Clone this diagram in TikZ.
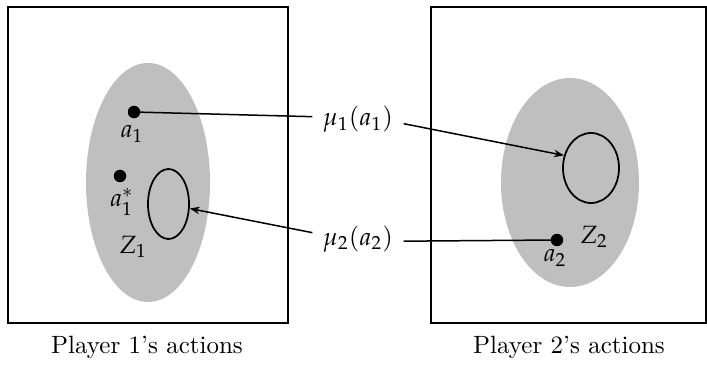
\documentclass[tikz,border=0pt]{standalone}
\usepackage{mathpazo}
\usetikzlibrary{arrows.meta,shapes.geometric}
\begin{document}
\begin{tikzpicture}[x=0.4pt,y=-0.4pt,
  frame/.style={draw, line width=0.8pt},
  region/.style={ellipse, fill=black!25, draw=none, inner sep=0pt},
  subset/.style={ellipse, draw, line width=0.7pt, inner sep=0pt},
  dot/.style={circle, fill=black, inner sep=0pt, minimum size=5pt},
  conn/.style={line width=0.6pt},
  arr/.style={conn, -{Stealth[length=4pt,width=3pt]}},
  lbl/.style={inner sep=0pt, anchor=base},
  caption/.style={inner sep=0pt, anchor=base, font=\fontsize{10}{12}\selectfont}]
\useasboundingbox (0,0) rectangle (707,366);
% frames
\node[frame, minimum width=112pt, minimum height=126.4pt, inner sep=0pt] (box1) at (148,165) {};
\node[frame, minimum width=110pt, minimum height=126.4pt, inner sep=0pt] (box2) at (568.5,165) {};
% regions
\node[region, minimum width=49.6pt, minimum height=95.6pt] (R1) at (148,182.5) {};
\node[region, minimum width=55.2pt, minimum height=83.6pt] (R2) at (570,182.5) {};
% subsets
\node[subset, minimum width=16.4pt, minimum height=28pt] (S1) at (168.5,204) {};
\node[subset, minimum width=22.4pt, minimum height=28pt] (S2) at (591,168) {};
% dots
\node[dot] (a1) at (134,112) {};
\node[dot] (a1s) at (120,176) {};
\node[dot] (a2) at (557,240) {};
% labels
\node[lbl] (la1) at (132,138) {$a_1$};
\node[lbl] (la1s) at (122,207) {$a_1^*$};
\node[lbl] (lZ1) at (133,253) {$Z_1$};
\node[lbl] (lZ2) at (594,243) {$Z_2$};
\node[lbl] (la2) at (555,262) {$a_2$};
\node[lbl] (mu1) at (358,126) {$\mu_1(a_1)$};
\node[lbl] (mu2) at (358,245) {$\mu_2(a_2)$};
% captions
\node[caption] (c1) at (147,353) {Player 1's actions};
\node[caption] (c2) at (569,353) {Player 2's actions};
% connectors
\draw[conn] (a1.center) -- ([xshift=-4pt,yshift=1.2pt]mu1.west);
\draw[arr] ([xshift=4pt,yshift=-1.6pt]mu1.east) -- (S2.155);
\draw[arr] ([xshift=-4pt,yshift=2.4pt]mu2.west) -- (S1.-12);
\draw[conn] ([xshift=4pt,yshift=-1pt]mu2.east) -- (a2.center);
\end{tikzpicture}
\end{document}
